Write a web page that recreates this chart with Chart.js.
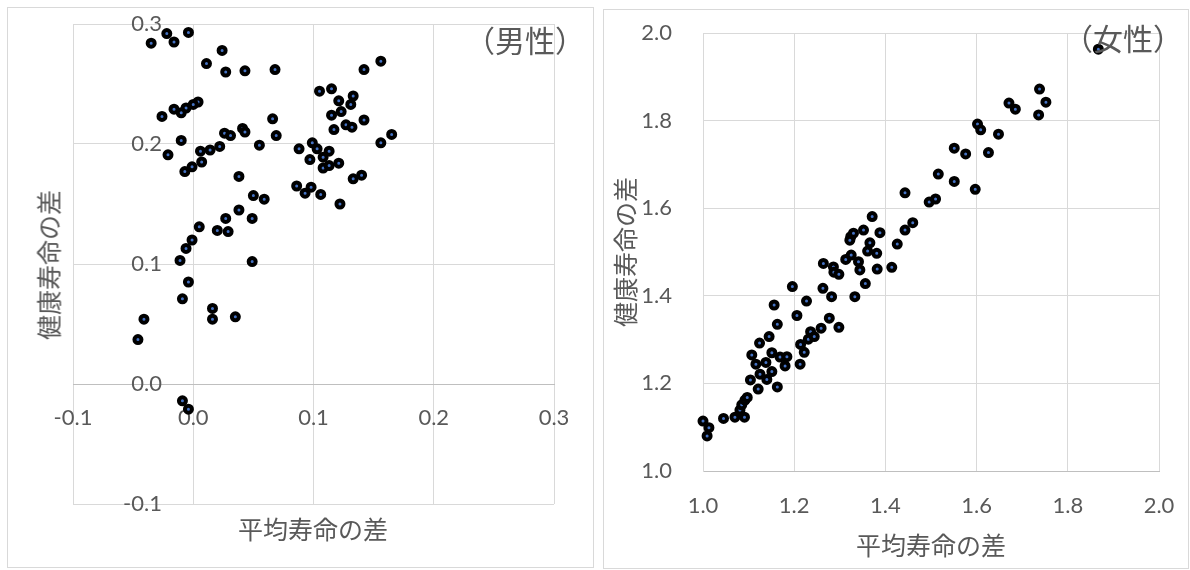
<!DOCTYPE html>
<html lang="ja">
<head>
<meta charset="utf-8">
<script src="https://cdn.jsdelivr.net/npm/chart.js@4.4.1/dist/chart.umd.min.js"></script>
<style>
  html, body { margin: 0; padding: 0; background: #fff; }
  body { width: 1190px; height: 570px; position: relative; overflow: hidden; }
  .panel { position: absolute; border: 1px solid #d9d9d9; box-sizing: border-box; background: #fff; }
  .panel canvas { position: absolute; left: 0; top: 0; }
  .txt { position: absolute; color: #595959; font-family: 'Noto Sans CJK JP', sans-serif; white-space: nowrap; line-height: 1; }
  .tag { font-size: 30px; }
  .axt { font-size: 25px; transform: translate(-50%, -50%); }
  .axt.rot { transform: translate(-50%, -50%) rotate(-90deg); }
</style>
</head>
<body>

<div class="panel" id="malePanel" style="left:7px; top:7px; width:587px; height:561px;">
  <canvas id="maleChart" width="585" height="559"></canvas>
  <div class="txt tag" style="left:457px; top:16px;">（男性）</div>
  <div class="txt axt" style="left:305px; top:520px;">平均寿命の差</div>
  <div class="txt axt rot" style="left:40px; top:257px;">健康寿命の差</div>
</div>

<div class="panel" id="femalePanel" style="left:603px; top:9px; width:586px; height:560px;">
  <canvas id="femaleChart" width="584" height="558"></canvas>
  <div class="txt tag" style="left:459px; top:12px;">（女性）</div>
</div>

<script>
// 男性: 平均寿命の差 (x) と 健康寿命の差 (y)
const maleLife = [
  -0.035, -0.022, -0.016, -0.004, 0.024, 0.011, 0.027, 0.043, 0.068, 0.105,
  0.004, 0.000, -0.006, -0.010, -0.016, -0.026, 0.066, 0.069, 0.026, 0.031,
  0.041, 0.043, -0.010, -0.021, 0.022, 0.014, 0.006, 0.007, -0.001, -0.007,
  0.055, 0.038, 0.050, 0.059, 0.038, 0.027, 0.049, 0.020, 0.029, 0.005,
  -0.001, -0.006, -0.011, 0.049, -0.004, -0.009, 0.016, 0.016, 0.035, -0.041,
  -0.046, -0.009, -0.004, 0.088, 0.099, 0.097, 0.108, 0.113, 0.108, 0.113,
  0.121, 0.103, 0.156, 0.142, 0.115, 0.121, 0.133, 0.131, 0.123, 0.115,
  0.142, 0.127, 0.132, 0.117, 0.165, 0.156, 0.140, 0.133, 0.086, 0.093,
  0.098, 0.106, 0.122
];
const maleHealth = [
  0.284, 0.292, 0.285, 0.293, 0.278, 0.267, 0.260, 0.261, 0.262, 0.244,
  0.235, 0.233, 0.230, 0.226, 0.229, 0.223, 0.221, 0.207, 0.209, 0.207,
  0.213, 0.210, 0.203, 0.191, 0.198, 0.195, 0.194, 0.185, 0.181, 0.177,
  0.199, 0.173, 0.157, 0.154, 0.145, 0.138, 0.138, 0.128, 0.127, 0.131,
  0.120, 0.113, 0.103, 0.102, 0.085, 0.071, 0.063, 0.054, 0.056, 0.054,
  0.037, -0.014, -0.021, 0.196, 0.201, 0.187, 0.189, 0.194, 0.180, 0.182,
  0.184, 0.196, 0.269, 0.262, 0.246, 0.236, 0.240, 0.233, 0.227, 0.224,
  0.220, 0.216, 0.214, 0.212, 0.208, 0.201, 0.174, 0.171, 0.165, 0.159,
  0.164, 0.158, 0.150
];

// 女性
const femaleLife = [
  1.000, 1.013, 1.009, 1.045, 1.070, 1.091, 1.081, 1.085, 1.092, 1.097,
  1.104, 1.121, 1.140, 1.125, 1.151, 1.163, 1.116, 1.138, 1.107, 1.151,
  1.169, 1.184, 1.180, 1.124, 1.145, 1.163, 1.156, 1.196, 1.206, 1.227,
  1.213, 1.222, 1.214, 1.231, 1.236, 1.244, 1.259, 1.277, 1.298, 1.263,
  1.282, 1.333, 1.356, 1.264, 1.286, 1.287, 1.298, 1.313, 1.325, 1.341,
  1.344, 1.324, 1.330, 1.322, 1.352, 1.371, 1.388, 1.366, 1.361, 1.381,
  1.382, 1.414, 1.426, 1.443, 1.443, 1.867, 1.738, 1.752, 1.736, 1.671,
  1.685, 1.602, 1.609, 1.648, 1.551, 1.576, 1.626, 1.516, 1.551, 1.597,
  1.496, 1.510, 1.460
];
const femaleHealth = [
  1.114, 1.099, 1.080, 1.120, 1.123, 1.123, 1.139, 1.151, 1.162, 1.168,
  1.208, 1.187, 1.209, 1.221, 1.227, 1.192, 1.244, 1.248, 1.265, 1.270,
  1.260, 1.261, 1.240, 1.292, 1.307, 1.335, 1.379, 1.421, 1.355, 1.388,
  1.244, 1.271, 1.289, 1.301, 1.318, 1.307, 1.326, 1.349, 1.328, 1.417,
  1.398, 1.398, 1.428, 1.474, 1.466, 1.454, 1.449, 1.483, 1.493, 1.478,
  1.459, 1.535, 1.543, 1.527, 1.550, 1.581, 1.544, 1.521, 1.502, 1.497,
  1.461, 1.465, 1.518, 1.550, 1.635, 1.963, 1.872, 1.842, 1.813, 1.840,
  1.826, 1.792, 1.779, 1.769, 1.737, 1.724, 1.727, 1.678, 1.661, 1.643,
  1.614, 1.621, 1.567
];

const maleXTicks = [-0.1, 0.0, 0.1, 0.2, 0.3];
const maleYTicks = [-0.1, 0.0, 0.1, 0.2, 0.3];
const femaleXTicks = [1.0, 1.2, 1.4, 1.6, 1.8, 2.0];
const femaleYTicks = [1.0, 1.2, 1.4, 1.6, 1.8, 2.0];

const tickFont = { family: "Lato, 'Noto Sans', sans-serif", size: 22 };
const titleFont = { family: "'Noto Sans CJK JP', sans-serif", size: 25 };
const textColor = '#595959';
const gridColor = '#d9d9d9';
const axisColor = '#bfbfbf';
const noTick = 'rgba(0,0,0,0)';

const pointStyle = {
  pointRadius: 3.5,
  pointBorderWidth: 4,
  pointBorderColor: '#000',
  pointBackgroundColor: '#4472c4',
  pointHoverRadius: 3.5,
  clip: false
};

const toPoints = (xs, ys) => xs.map((x, i) => ({ x, y: ys[i] }));
const fixedTicks = list => scale => { scale.ticks = list.map(v => ({ value: v })); };
const fmt = v => Number(v).toFixed(1);

// 男性: 横軸は y=0 で交差。縦軸の目盛ラベルは x=0 の少し左 (約 -0.026) に置く
new Chart(document.getElementById('maleChart'), {
  type: 'scatter',
  data: { datasets: [{ data: toPoints(maleLife, maleHealth), ...pointStyle }] },
  options: {
    responsive: false,
    animation: false,
    layout: { padding: { left: 65, top: 16, right: 39, bottom: 63 } },
    plugins: { legend: { display: false }, tooltip: { enabled: false } },
    scales: {
      x: {
        type: 'linear',
        position: { y: 0 },
        min: -0.1, max: 0.3,
        afterBuildTicks: fixedTicks(maleXTicks),
        afterFit: s => { s.height = 0; },
        grid: { color: gridColor, tickLength: 21, tickColor: noTick },
        border: { color: axisColor },
        ticks: { font: tickFont, color: textColor, padding: 0, maxRotation: 0, callback: fmt }
      },
      y: {
        type: 'linear',
        position: { x: -0.026 },
        min: -0.1, max: 0.3,
        afterBuildTicks: fixedTicks(maleYTicks),
        afterFit: s => { s.width = 0; },
        grid: { color: gridColor, drawTicks: false },
        border: { display: false },
        ticks: { font: tickFont, color: textColor, padding: 0, callback: fmt }
      }
    }
  }
});

new Chart(document.getElementById('femaleChart'), {
  type: 'scatter',
  data: { datasets: [{ data: toPoints(femaleLife, femaleHealth), ...pointStyle }] },
  options: {
    responsive: false,
    animation: false,
    layout: { padding: { left: 0, top: 23, right: 29, bottom: 0 } },
    plugins: { legend: { display: false }, tooltip: { enabled: false } },
    scales: {
      x: {
        type: 'linear',
        min: 1, max: 2,
        afterBuildTicks: fixedTicks(femaleXTicks),
        afterFit: s => { s.height = 97; },
        grid: { color: gridColor, tickLength: 22, tickColor: noTick },
        border: { color: axisColor },
        ticks: { font: tickFont, color: textColor, padding: 0, maxRotation: 0, callback: fmt },
        title: { display: true, text: '平均寿命の差', color: textColor, font: titleFont, padding: { top: 0, bottom: 8 } }
      },
      y: {
        type: 'linear',
        min: 1, max: 2,
        afterBuildTicks: fixedTicks(femaleYTicks),
        afterFit: s => { s.width = 99; },
        grid: { color: gridColor, tickLength: 31, tickColor: noTick },
        border: { color: gridColor },
        ticks: { font: tickFont, color: textColor, padding: 0, callback: fmt },
        title: { display: true, text: '健康寿命の差', color: textColor, font: titleFont, padding: { top: 6, bottom: 0 } }
      }
    }
  }
});
</script>
</body>
</html>
